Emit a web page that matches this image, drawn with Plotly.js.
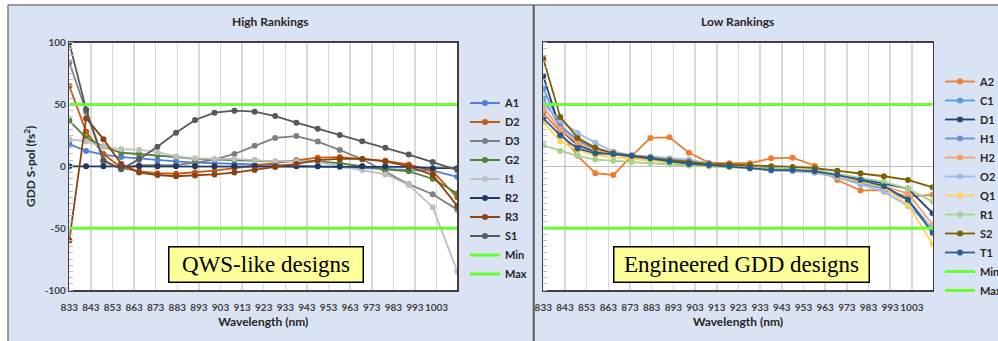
<!DOCTYPE html>
<html>
<head>
<meta charset="utf-8">
<script src="https://cdn.plot.ly/plotly-3.0.1.min.js"></script>
<style>html,body{margin:0;padding:0;background:#fff;}#chart{width:998px;height:341px;}</style>
</head>
<body>
<div id="chart"></div>
<script>
// Wavelength samples (nm)
const wavelength = [833.0, 840.8, 848.8, 857.0, 865.3, 873.8, 882.4, 891.2, 900.2, 909.4, 918.8, 928.3, 938.1, 948.0, 958.2, 968.6, 979.3, 990.1, 1001.2, 1012.6];
const xTickVals = [833, 843, 853, 863, 873, 883, 893, 903, 913, 923, 933, 943, 953, 963, 973, 983, 993, 1003];
const xTickText = ["833","843","853","863","873","883","893","903","913","923","933","943","953","963","973","983","993","1003"];
const yTickVals = [-100, -50, 0, 50, 100];
const yTickText = ["-100", "-50", "0", "50", "100"];
const minLimit = -50;
const maxLimit = 50;

// High Rankings (GDD S-pol, fs^2)
const highNames = ["A1","D2","D3","G2","I1","R2","R3","S1"];
const A1 = [18, 12.5, 9.5, 7.5, 6.5, 5, 4, 3, 2.5, 1.5, 1, 1, 0.5, 0, -0.5, -1, -2, -3, -3.5, -8.5];
const D2 = [65, 28, 10, -1, -4, -5.5, -6, -5, -3.5, -1.5, 0.5, 2.5, 5, 7, 7.5, 6, 4.5, 1.5, -4, -25];
const D3 = [84, 44, 4, -2, 1, 1, 1, 3, 5.5, 10, 16.7, 23, 24.5, 20, 13.2, 5.7, -4.3, -14.5, -22.6, -35];
const G2 = [37, 23, 16, 11, 10, 9, 7.5, 6, 5.5, 5, 5, 4, 4, 4, 2.5, 0, -2.5, -4, -10, -22];
const I1 = [22, 20, 16, 14, 13.5, 11.5, 8, 6.5, 6, 6, 5, 4, 4, 3.5, 0, -3, -6.5, -15, -33, -85];
const R2 = [0, 0, 0, 0, 0, 0, 0, 0, 0, 0, 0, 0, 0, 0, 0, 0, 0, -0.5, -1.5, -1.5];
const R3 = [-60, 39, 22, 2, -5, -7, -8, -7.5, -6.5, -5, -3, -0.5, 2, 5, 6, 6, 4, 0, -7, -32];
const S1 = [100, 46, 5, -2.4, 5.7, 15.9, 27.2, 37.5, 43.4, 45, 44.2, 40.7, 35.3, 30.5, 25.4, 20.2, 15.1, 9.5, 3.5, -3];
const highColors = ["#4F81DA","#C55A11","#7F7F7F","#548235","#BFBFBF","#1F3864","#8E420F","#595959"];

// Low Rankings (GDD S-pol, fs^2)
const lowNames = ["A2","C1","D1","H1","H2","O2","Q1","R1","S2","T1"];
const A2 = [43, 28, 8.5, -5.5, -7, 8.5, 23, 23.5, 11, 3, 2.5, 2.5, 6.5, 7, 0.5, -11, -19.5, -19.5, -24.5, -23];
const C1 = [63, 33, 21, 14, 10.5, 8, 6.5, 5, 3, 1, 0, -1, -2.5, -3, -4, -8, -13, -18, -27, -52];
const D1 = [73, 30, 17, 12, 10, 8, 6.5, 5, 3, 1.5, 0, -1, -2, -2.5, -3.5, -6.5, -10, -14, -18, -38];
const H1 = [55, 32, 22, 15, 10.5, 8, 7, 6, 4, 2, 0.5, -1, -2.5, -3.5, -5, -8.5, -13, -18, -27, -51];
const H2 = [48, 30, 19, 13, 10, 7, 5.5, 4, 2, 0, -0.5, -1, -2.5, -3, -4, -8, -12, -16, -22, -47];
const O2 = [50, 37, 27, 19, 12, 9, 8, 6.5, 5.5, 2.5, 0, -1.5, -3.5, -4, -5, -9, -15, -20.5, -32, -50];
const Q1 = [36, 20, 13, 9, 7.5, 6, 4.5, 3, 1.5, 0.5, -1, -1.5, -2.5, -3, -4, -7.5, -12, -17, -31, -63];
const R1 = [17, 12.5, 8.5, 5.5, 4.5, 3.5, 2.5, 1.5, 0.5, 0, -0.5, -1, -1.5, -2, -3, -6, -9.5, -12.5, -18, -28.5];
const S2 = [87, 40, 23, 15, 10.5, 8.5, 7, 5, 3.5, 2, 1.5, 1, 0, -0.5, -1.5, -3.5, -5.5, -8, -11, -17];
const T1 = [39, 25, 14.5, 10.5, 10, 8.5, 6.5, 4, 2, 1, 0, -1.5, -3, -3, -4, -7, -11, -16, -27, -54];
const lowColors = ["#ED7D31","#5B9BD5","#264478","#6F8FD6","#F4A06A","#A3B8E6","#FFD54F","#A9D18E","#7F6000","#255E91"];

const highSeries = [A1, D2, D3, G2, I1, R2, R3, S1];
const lowSeries = [A2, C1, D1, H1, H2, O2, Q1, R1, S2, T1];

const W = 998, H = 341;
const px = v => v / W;
const py = v => 1 - v / H;

const traces = [];
function addSeries(names, series, colors, xa, ya, leg) {
  names.forEach((n, i) => {
    traces.push({
      x: wavelength, y: series[i], name: n, type: 'scatter', mode: 'lines+markers',
      xaxis: xa, yaxis: ya, legend: leg,
      line: {color: colors[i], width: 1.8},
      marker: {color: colors[i], size: 6}
    });
  });
  traces.push({x: [wavelength[0], wavelength[wavelength.length-1]], y: [minLimit, minLimit], name: 'Min', mode: 'lines',
    xaxis: xa, yaxis: ya, legend: leg, line: {color: '#66FF33', width: 3}});
  traces.push({x: [wavelength[0], wavelength[wavelength.length-1]], y: [maxLimit, maxLimit], name: 'Max', mode: 'lines',
    xaxis: xa, yaxis: ya, legend: leg, line: {color: '#66FF33', width: 3}});
}
addSeries(highNames, highSeries, highColors, 'x', 'y', 'legend');
addSeries(lowNames, lowSeries, lowColors, 'x2', 'y2', 'legend2');

const FONT = 'Lato, "Open Sans", sans-serif';
const tickFont = {family: FONT, size: 10, color: '#404040', weight: 'bold'};
const titleFont = {family: FONT, size: 12, color: '#262626', weight: 'bold'};

function xAxis(domain, anchor) {
  return {
    domain: domain, anchor: anchor, range: [wavelength[0], wavelength[wavelength.length-1]],
    tickmode: 'array', tickvals: xTickVals, ticktext: xTickText, tickfont: tickFont, tickangle: 0,
    ticklabelstandoff: 7,
    showgrid: true, gridcolor: '#D9D9D9', gridwidth: 1.5, zeroline: false,
    showline: true, linecolor: '#404040', linewidth: 1.5, mirror: true, ticks: '',
    title: {text: 'Wavelength (nm)', font: titleFont, standoff: 6}
  };
}
function yAxis(domain, anchor, showLabels) {
  const ax = {
    domain: domain, anchor: anchor, range: [-100, 100],
    tickmode: 'array', tickvals: yTickVals, ticktext: yTickText, tickfont: tickFont,
    showticklabels: showLabels, showgrid: false,
    zeroline: true, zerolinecolor: '#BFBFBF', zerolinewidth: 1.5,
    showline: true, linecolor: '#404040', linewidth: 1.5, mirror: true, ticks: '',
    minor: {dtick: 5, tick0: 0, ticks: 'inside', ticklen: 4, tickcolor: '#BFBFBF', tickwidth: 1, showgrid: false}
  };
  if (showLabels) ax.title = {text: 'GDD S-pol (fs<sup>2</sup>)', font: titleFont, standoff: 6};
  return ax;
}

const yDom = [py(290), py(42.7)];
const legendFont = {family: FONT, size: 11, color: '#262626', weight: 'bold'};
const layout = {
  width: W, height: H,
  margin: {l: 0, r: 0, t: 0, b: 0, autoexpand: false},
  paper_bgcolor: '#DAE3F3', plot_bgcolor: '#FFFFFF',
  font: {family: FONT, color: '#262626'},
  xaxis: xAxis([px(69.3), px(457.3)], 'y'),
  yaxis: yAxis(yDom, 'x', true),
  xaxis2: xAxis([px(543.3), px(932.7)], 'y2'),
  yaxis2: yAxis(yDom, 'x2', false),
  legend: {x: px(465), y: py(88.5), xanchor: 'left', yanchor: 'top', bgcolor: 'rgba(0,0,0,0)', borderwidth: 0,
    font: legendFont, tracegroupgap: 0, itemwidth: 30},
  legend2: {x: px(940), y: py(67), xanchor: 'left', yanchor: 'top', bgcolor: 'rgba(0,0,0,0)', borderwidth: 0,
    font: legendFont, tracegroupgap: 0, itemwidth: 30},
  showlegend: true,
  shapes: [
    {type: 'rect', xref: 'paper', yref: 'paper', x0: 0, x1: 1, y0: py(5), y1: 1, fillcolor: '#FFFFFF', line: {width: 0}, layer: 'below'},
    {type: 'rect', xref: 'paper', yref: 'paper', x0: 0, x1: px(8), y0: 0, y1: 1, fillcolor: '#FFFFFF', line: {width: 0}, layer: 'below'},
    {type: 'line', xref: 'paper', yref: 'paper', x0: px(8), x1: 1, y0: py(5), y1: py(5), line: {color: '#7F7F7F', width: 1.5}},
    {type: 'line', xref: 'paper', yref: 'paper', x0: px(8), x1: px(8), y0: 0, y1: py(5), line: {color: '#7F7F7F', width: 1.5}},
    {type: 'line', xref: 'paper', yref: 'paper', x0: px(533.7), x1: px(533.7), y0: 0, y1: py(5), line: {color: '#595959', width: 2}}
  ],
  annotations: [
    {text: 'High Rankings', xref: 'paper', yref: 'paper', x: px(270), y: py(22), xanchor: 'center', yanchor: 'middle', showarrow: false, font: titleFont},
    {text: 'Low Rankings', xref: 'paper', yref: 'paper', x: px(737), y: py(22), xanchor: 'center', yanchor: 'middle', showarrow: false, font: titleFont},
    {text: 'QWS-like designs', xref: 'paper', yref: 'paper', x: px(265.5), y: py(264), xanchor: 'center', yanchor: 'middle', showarrow: false,
      font: {family: '"Liberation Serif", serif', size: 23, color: '#000'}, bgcolor: '#FFFF99', bordercolor: '#000', borderwidth: 1.5,
      width: 193, height: 34, borderpad: 0},
    {text: 'Engineered GDD designs', xref: 'paper', yref: 'paper', x: px(741), y: py(264), xanchor: 'center', yanchor: 'middle', showarrow: false,
      font: {family: '"Liberation Serif", serif', size: 23, color: '#000'}, bgcolor: '#FFFF99', bordercolor: '#000', borderwidth: 1.5,
      width: 254, height: 34, borderpad: 0}
  ]
};

Plotly.newPlot('chart', traces, layout, {displayModeBar: false, staticPlot: true});
</script>
</body>
</html>
